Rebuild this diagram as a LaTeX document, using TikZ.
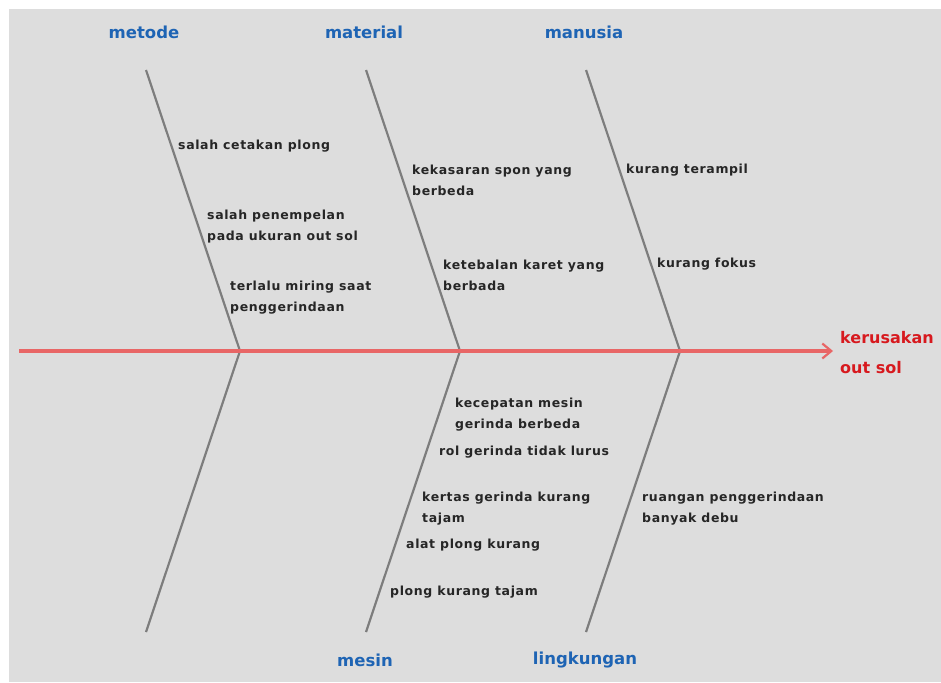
\documentclass[tikz,border=0pt]{standalone}
\usepackage{fontspec}
\setmainfont{DejaVu Sans}
\newfontfamily\causefont[LetterSpace=5]{DejaVu Sans Bold}
\usetikzlibrary{arrows.meta}
\definecolor{bg}{RGB}{221,221,221}
\definecolor{bone}{RGB}{125,125,125}
\definecolor{spine}{RGB}{232,102,102}
\definecolor{cat}{RGB}{30,100,180}
\definecolor{eff}{RGB}{215,25,30}
\tikzset{
  bonel/.style={draw=bone, line width=2.2pt},
  catlbl/.style={text=cat, font=\fontsize{16.5}{18}\selectfont\bfseries, inner sep=0pt},
  cause/.style={text=black!85, font=\causefont\fontsize{12.5}{21}\selectfont, inner sep=0pt, anchor=west, align=left},
}
\begin{document}
\begin{tikzpicture}[x=1pt,y=-1pt]
\useasboundingbox[fill=white] (0,0) rectangle (941,682);
\fill[bg] (9,9) rectangle (941,682);
% bones
\coordinate (m1t) at (146,70); \coordinate (m1j) at (240,351); \coordinate (m1b) at (146,632);
\coordinate (m2t) at (366,70); \coordinate (m2j) at (460,351); \coordinate (m2b) at (366,632);
\coordinate (m3t) at (586,70); \coordinate (m3j) at (680,351); \coordinate (m3b) at (586,632);
\draw[bonel] (m1t) -- (m1j) -- (m1b);
\draw[bonel] (m2t) -- (m2j) -- (m2b);
\draw[bonel] (m3t) -- (m3j) -- (m3b);
% spine
\coordinate (s0) at (19,351);
\node[text=eff, font=\fontsize{16}{30}\selectfont\bfseries, anchor=west, align=left, inner sep=0pt] (eff) at (840,353) {kerusakan\\out sol};
\coordinate (tip) at (833,351);
\draw[spine, line width=3.2pt, -{Straight Barb[length=9pt,width=15pt,line width=2.2pt]}] (s0) -- (tip);
% category labels
\node[catlbl] (metode) at (144,32) {metode};
\node[catlbl] (material) at (364,32) {material};
\node[catlbl] (manusia) at (584,32) {manusia};
\node[catlbl] (mesin) at (365,660) {mesin};
\node[catlbl] (lingkungan) at (585,660) {lingkungan};
% causes
\node[cause] (c1) at (178,146) {salah cetakan plong};
\node[cause] (c2) at (207,227) {salah penempelan\\pada ukuran out sol};
\node[cause] (c3) at (230,298) {terlalu miring saat\\penggerindaan};
\node[cause] (c4) at (412,180) {kekasaran spon yang\\berbeda};
\node[cause] (c5) at (443,275) {ketebalan karet yang\\berbada};
\node[cause] (c6) at (626,170) {kurang terampil};
\node[cause] (c7) at (657,264) {kurang fokus};
\node[cause] (c8) at (455,415) {kecepatan mesin\\gerinda berbeda};
\node[cause] (c9) at (439,452) {rol gerinda tidak lurus};
\node[cause] (c10) at (422,509) {kertas gerinda kurang\\tajam};
\node[cause] (c11) at (406,545) {alat plong kurang};
\node[cause] (c12) at (390,592) {plong kurang tajam};
\node[cause] (c13) at (642,509) {ruangan penggerindaan\\banyak debu};
\end{tikzpicture}
\end{document}
